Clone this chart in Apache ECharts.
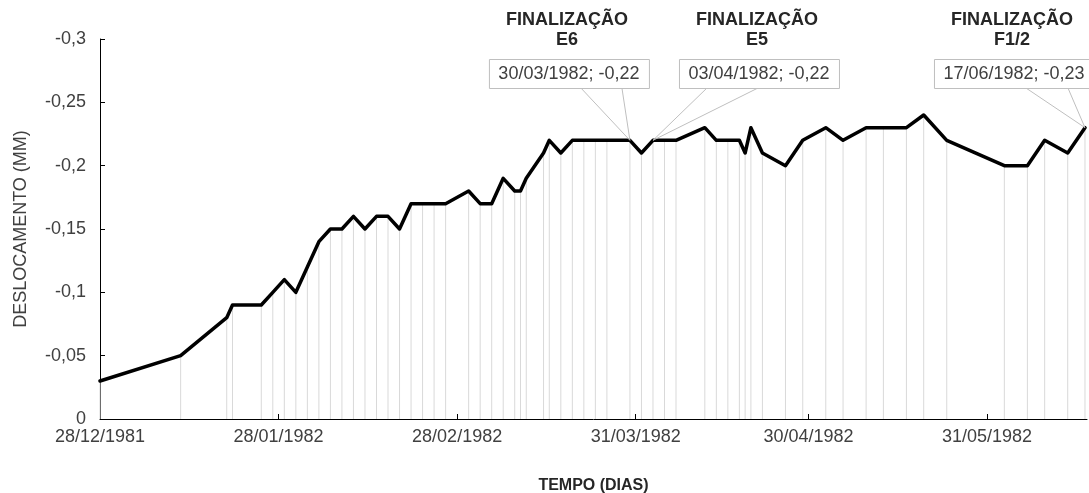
<!DOCTYPE html>
<html>
<head>
<meta charset="utf-8">
<script src="https://cdn.jsdelivr.net/npm/echarts@6/dist/echarts.min.js"></script>
<style>
  html, body { margin: 0; padding: 0; background: #fff; }
  #chart { width: 1089px; height: 493px; }
</style>
</head>
<body>
<div id="chart"></div>
<script>
// leituras de deslocamento (mm) por data
const dates = [
  '28/12/1981', '11/01/1982', '19/01/1982', '20/01/1982', '25/01/1982', '27/01/1982',
  '29/01/1982', '31/01/1982', '02/02/1982', '04/02/1982', '06/02/1982', '08/02/1982',
  '10/02/1982', '12/02/1982', '14/02/1982', '16/02/1982', '18/02/1982', '20/02/1982',
  '22/02/1982', '24/02/1982', '26/02/1982', '02/03/1982', '04/03/1982', '06/03/1982',
  '08/03/1982', '10/03/1982', '11/03/1982', '12/03/1982', '15/03/1982', '16/03/1982',
  '18/03/1982', '20/03/1982', '22/03/1982', '24/03/1982', '26/03/1982', '30/03/1982',
  '01/04/1982', '03/04/1982', '05/04/1982', '07/04/1982', '12/04/1982', '14/04/1982',
  '16/04/1982', '18/04/1982', '19/04/1982', '20/04/1982', '22/04/1982', '26/04/1982',
  '29/04/1982', '03/05/1982', '06/05/1982', '10/05/1982', '13/05/1982', '17/05/1982',
  '20/05/1982', '24/05/1982', '03/06/1982', '07/06/1982', '10/06/1982', '14/06/1982',
  '17/06/1982'
]
const deslocamento = [
  -0.03, -0.05, -0.08, -0.09, -0.09, -0.10,
  -0.11, -0.10, -0.12, -0.14, -0.15, -0.15,
  -0.16, -0.15, -0.16, -0.16, -0.15, -0.17,
  -0.17, -0.17, -0.17, -0.18, -0.17, -0.17,
  -0.19, -0.18, -0.18, -0.19, -0.21, -0.22,
  -0.21, -0.22, -0.22, -0.22, -0.22, -0.22,
  -0.21, -0.22, -0.22, -0.22, -0.23, -0.22,
  -0.22, -0.22, -0.21, -0.23, -0.21, -0.20,
  -0.22, -0.23, -0.22, -0.23, -0.23, -0.23,
  -0.24, -0.22, -0.20, -0.20, -0.22, -0.21,
  -0.23
]
const xTickDates = ['28/12/1981', '28/01/1982', '28/02/1982', '31/03/1982', '30/04/1982', '31/05/1982']
const yTicks = [0, -0.05, -0.1, -0.15, -0.2, -0.25, -0.3]

// anotações
const annotTitles = ['FINALIZAÇÃO\nE6', 'FINALIZAÇÃO\nE5', 'FINALIZAÇÃO\nF1/2']
const annotDates = ['30/03/1982', '03/04/1982', '17/06/1982']

// posição das caixas (deslocamento em px em relação ao ponto)
const annotLayout = [
  { dx: -61, b1: 12, b2: 53 },
  { dx: 106, b1: -52, b2: -1 },
  { dx: -71, b1: 12, b2: 54 }
]

const DAY = 24 * 3600 * 1000
const FONT = '"Liberation Sans", Arial, sans-serif'

const toTime = (s) => {
  const [d, m, y] = s.split('/').map(Number)
  return Date.UTC(y, m - 1, d)
}
const pad = (n) => (n < 10 ? '0' + n : '' + n)
const fmtDate = (t) => {
  const d = new Date(t)
  return pad(d.getUTCDate()) + '/' + pad(d.getUTCMonth() + 1) + '/' + d.getUTCFullYear()
}
const fmtNum = (v) => (Math.round(v * 100) / 100).toString().replace('.', ',')

const seriesData = dates.map((d, i) => [toTime(d), deslocamento[i]])

const chart = echarts.init(document.getElementById('chart'))

const option = {
  animation: false,
  textStyle: { fontFamily: FONT },
  grid: {
    left: 100,
    right: 2,
    top: 39,
    bottom: 74,
    containLabel: false,
    outerBoundsMode: 'none'
  },
  xAxis: {
    type: 'value',
    min: toTime(xTickDates[0]),
    max: toTime(annotDates[2]) + 0.35 * DAY,
    name: 'TEMPO (DIAS)',
    nameLocation: 'middle',
    nameGap: 59,
    nameTextStyle: { color: '#262626', fontSize: 16, fontWeight: 'bold', fontFamily: FONT },
    axisLine: { onZero: false, lineStyle: { color: '#000', width: 1 } },
    axisTick: {
      show: true,
      inside: true,
      length: 5,
      customValues: xTickDates.map(toTime),
      lineStyle: { color: '#000' }
    },
    axisLabel: {
      customValues: xTickDates.map(toTime),
      formatter: (v) => fmtDate(v),
      color: '#404040',
      fontSize: 18,
      margin: 9,
      fontFamily: FONT
    },
    splitLine: { show: false }
  },
  yAxis: {
    type: 'value',
    inverse: true,
    min: -0.3,
    max: 0,
    interval: 0.05,
    name: 'DESLOCAMENTO (MM)',
    nameLocation: 'middle',
    nameGap: 70,
    nameTextStyle: { color: '#404040', fontSize: 18, fontFamily: FONT },
    axisLine: { show: true, lineStyle: { color: '#000', width: 1 } },
    axisTick: { show: true, inside: true, length: 5, lineStyle: { color: '#000' } },
    axisLabel: {
      customValues: yTicks,
      formatter: (v) => fmtNum(v),
      color: '#404040',
      fontSize: 18,
      margin: 14,
      fontFamily: FONT
    },
    splitLine: { show: false }
  },
  series: [
    {
      name: 'linhas',
      type: 'bar',
      data: seriesData,
      barWidth: 1,
      itemStyle: { color: '#d9d9d9' },
      silent: true,
      z: 1
    },
    {
      name: 'deslocamento',
      type: 'line',
      data: seriesData,
      showSymbol: false,
      clip: false,
      lineStyle: { color: '#000', width: 3.5, cap: 'round', join: 'round' },
      z: 3
    }
  ]
}

chart.setOption(option)

// caixas de texto com chamada até o ponto
const graphics = []
annotDates.forEach((d, i) => {
  const idx = dates.indexOf(d)
  const v = deslocamento[idx]
  const [px, py] = chart.convertToPixel({ gridIndex: 0 }, [toTime(d), v])
  const L = annotLayout[i]
  const cx = px + L.dx
  const top = 59
  const h = 29
  const w = 160
  graphics.push({
    type: 'polyline',
    shape: { points: [[cx + L.b1, top + h], [px, py], [cx + L.b2, top + h]] },
    style: { stroke: '#bfbfbf', fill: null, lineWidth: 1 },
    z: 10
  })
  graphics.push({
    type: 'rect',
    shape: { x: cx - w / 2 + 0.5, y: top + 0.5, width: w, height: h },
    style: { fill: '#fff', stroke: '#bfbfbf', lineWidth: 1 },
    z: 11
  })
  graphics.push({
    type: 'text',
    x: cx,
    y: top + h / 2 + 1,
    style: {
      text: d + '; ' + fmtNum(v),
      font: '18px ' + FONT,
      fill: '#404040',
      align: 'center',
      verticalAlign: 'middle'
    },
    z: 12
  })
  graphics.push({
    type: 'text',
    x: cx - 2,
    y: 10,
    style: {
      text: annotTitles[i],
      font: 'bold 18px ' + FONT,
      fill: '#262626',
      align: 'center',
      verticalAlign: 'top',
      lineHeight: 20
    },
    z: 12
  })
})

chart.setOption({ graphic: graphics })
</script>
</body>
</html>
